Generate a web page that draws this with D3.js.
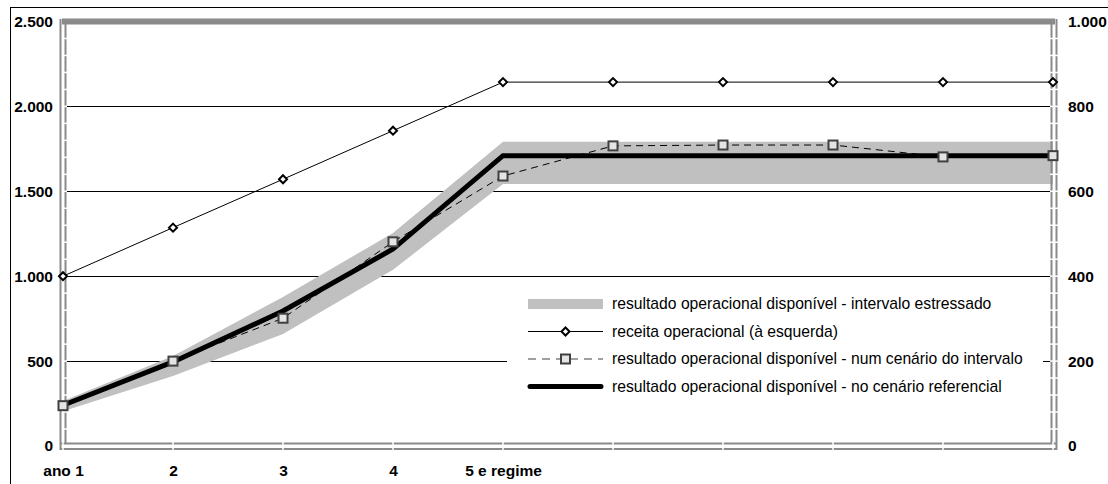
<!DOCTYPE html>
<html>
<head>
<meta charset="utf-8">
<script src="https://cdn.jsdelivr.net/npm/d3@7"></script>
<style>
  html, body { margin: 0; padding: 0; background: #fff; }
  svg { display: block; font-family: "Liberation Sans", Arial, sans-serif; }
</style>
</head>
<body>
<svg id="chart" width="1108" height="484"></svg>
<script>
// Periods along the horizontal axis and their labels
const periods = [1, 2, 3, 4, 5, 6, 7, 8, 9, 10];
const periodLabels = ["ano 1", "2", "3", "4", "5 e regime", "", "", "", "", ""];

// Left axis series
const receita = [1000, 1286, 1571, 1857, 2143, 2143, 2143, 2143, 2143, 2143];

// Right axis series
const resultadoReferencial = [96, 198, 318, 464, 684, 684, 684, 684, 684, 684];
const resultadoCenario = [95, 200, 301, 481, 636, 707, 709, 709, 681, 684];
const intervaloMin = [82, 165, 264, 415, 617, 617, 617, 617, 617, 617];
const intervaloMax = [106, 212, 351, 502, 717, 717, 717, 717, 717, 717];

// Tick values
const leftTicks = [0, 500, 1000, 1500, 2000, 2500];
const rightTicks = [0, 200, 400, 600, 800, 1000];

// Legend entries
const legendLabels = [
  "resultado operacional disponível - intervalo estressado",
  "receita operacional (à esquerda)",
  "resultado operacional disponível - num cenário do intervalo",
  "resultado operacional disponível - no cenário referencial"
];

const svg = d3.select("#chart");
const ptBR = d3.formatLocale({ decimal: ",", thousands: ".", grouping: [3], currency: ["R$", ""] });
const fmt = ptBR.format(",d");

const x = d3.scalePoint().domain(periods).range([63, 1053]);
const yL = d3.scaleLinear().domain([0, 2500]).range([446, 21.5]);
const yR = d3.scaleLinear().domain([0, 1000]).range([446, 21.5]);

const axisGray = "#8a8a8a";

// outer frame
svg.append("rect")
  .attr("x", 10.5).attr("y", 7.5).attr("width", 1200).attr("height", 600)
  .attr("fill", "none").attr("stroke", "#000").attr("stroke-width", 1);

// horizontal gridlines
svg.append("g").selectAll("line")
  .data(leftTicks.filter(v => v > 0 && v < 2500))
  .join("line")
  .attr("x1", 66).attr("x2", 1051)
  .attr("y1", d => Math.round(yL(d)) + 0.5).attr("y2", d => Math.round(yL(d)) + 0.5)
  .attr("stroke", "#000").attr("stroke-width", 1);

// stressed interval band
const band = d3.area()
  .x((d, i) => x(periods[i]))
  .y0(d => yR(d[0]))
  .y1(d => yR(d[1]));
svg.append("path")
  .datum(intervaloMin.map((v, i) => [v, intervaloMax[i]]))
  .attr("d", band)
  .attr("fill", "#c0c0c0");

// legend background
svg.append("rect")
  .attr("x", 507).attr("y", 290).attr("width", 536).attr("height", 110)
  .attr("fill", "#fff");

// axis frame: double gray lines with white tick notches
const frame = svg.append("g");
frame.append("line").attr("x1", 60.5).attr("x2", 60.5).attr("y1", 19).attr("y2", 450).attr("stroke", axisGray).attr("stroke-width", 2);
frame.append("line").attr("x1", 65.5).attr("x2", 65.5).attr("y1", 24).attr("y2", 444).attr("stroke", axisGray).attr("stroke-width", 2);
frame.append("line").attr("x1", 1051.5).attr("x2", 1051.5).attr("y1", 24).attr("y2", 444).attr("stroke", axisGray).attr("stroke-width", 2);
frame.append("line").attr("x1", 1056.5).attr("x2", 1056.5).attr("y1", 19).attr("y2", 450).attr("stroke", axisGray).attr("stroke-width", 2);
frame.append("line").attr("x1", 60).attr("x2", 1057).attr("y1", 443.5).attr("y2", 443.5).attr("stroke", axisGray).attr("stroke-width", 2);
frame.append("line").attr("x1", 60).attr("x2", 1057).attr("y1", 449).attr("y2", 449).attr("stroke", axisGray).attr("stroke-width", 2);
frame.append("line").attr("x1", 62).attr("x2", 1055).attr("y1", 21.5).attr("y2", 21.5).attr("stroke", axisGray).attr("stroke-width", 6);

// minor notches on the vertical axis lines
const minorLeft = d3.range(100, 2500, 100);
frame.append("g").selectAll("line").data(minorLeft).join("line")
  .attr("x1", 64).attr("x2", 67)
  .attr("y1", d => yL(d)).attr("y2", d => yL(d))
  .attr("stroke", "#fff").attr("stroke-width", 1.5);
const minorRight = d3.range(40, 1000, 40);
frame.append("g").selectAll("line").data(minorRight).join("line")
  .attr("x1", 1050).attr("x2", 1058)
  .attr("y1", d => yR(d)).attr("y2", d => yR(d))
  .attr("stroke", "#fff").attr("stroke-width", 1.5);
// notches on the bottom axis at each period
frame.append("g").selectAll("line").data(periods).join("line")
  .attr("x1", d => x(d)).attr("x2", d => x(d))
  .attr("y1", 442).attr("y2", 451)
  .attr("stroke", "#fff").attr("stroke-width", 1.5);

// dashed scenario line
const lineR = d3.line().x((d, i) => x(periods[i])).y(d => yR(d));
const lineL = d3.line().x((d, i) => x(periods[i])).y(d => yL(d));

svg.append("path")
  .datum(resultadoCenario)
  .attr("d", lineR)
  .attr("fill", "none").attr("stroke", "#000").attr("stroke-width", 1)
  .attr("stroke-dasharray", "7,5");

// revenue line (left axis)
svg.append("path")
  .datum(receita)
  .attr("d", lineL)
  .attr("fill", "none").attr("stroke", "#000").attr("stroke-width", 1);

// reference scenario line
svg.append("path")
  .datum(resultadoReferencial)
  .attr("d", lineR)
  .attr("fill", "none").attr("stroke", "#000").attr("stroke-width", 5)
  .attr("stroke-linejoin", "miter");

// markers
const diamond = (cx, cy, r) => `M${cx},${cy - r}L${cx + r},${cy}L${cx},${cy + r}L${cx - r},${cy}Z`;
svg.append("g").selectAll("path").data(receita).join("path")
  .attr("d", (d, i) => diamond(x(periods[i]), yL(d), 4))
  .attr("fill", "#fff").attr("stroke", "#000").attr("stroke-width", 2);

svg.append("g").selectAll("rect").data(resultadoCenario).join("rect")
  .attr("x", (d, i) => x(periods[i]) - 4.5)
  .attr("y", d => yR(d) - 4.5)
  .attr("width", 9).attr("height", 9)
  .attr("fill", "#e4e4e4").attr("stroke", "#404040").attr("stroke-width", 2);

// axes
const gLeft = svg.append("g")
  .attr("transform", "translate(63,0)")
  .call(d3.axisLeft(yL).tickValues(leftTicks).tickFormat(fmt).tickSize(0).tickPadding(10));
const gRight = svg.append("g")
  .attr("transform", "translate(1053,0)")
  .call(d3.axisRight(yR).tickValues(rightTicks).tickFormat(fmt).tickSize(0).tickPadding(15));
const gBottom = svg.append("g")
  .attr("transform", "translate(0,446)")
  .call(d3.axisBottom(x).tickFormat((d, i) => periodLabels[i]).tickSize(0).tickPadding(19));

[gLeft, gRight, gBottom].forEach(g => {
  g.select(".domain").remove();
  g.selectAll("text")
    .attr("fill", "#000")
    .style("font-family", "'Liberation Sans', Arial, sans-serif")
    .style("font-size", "15.5px")
    .style("font-weight", "bold");
});

// legend
const legend = svg.append("g").attr("transform", "translate(528,0)");
const rowY = [304, 331.5, 359, 386.5];
legend.append("rect").attr("x", 0).attr("y", rowY[0] - 5).attr("width", 75).attr("height", 10).attr("fill", "#c0c0c0");
legend.append("line").attr("x1", 0).attr("x2", 75).attr("y1", rowY[1]).attr("y2", rowY[1]).attr("stroke", "#000").attr("stroke-width", 1);
legend.append("path").attr("d", diamond(37.5, rowY[1], 4)).attr("fill", "#fff").attr("stroke", "#000").attr("stroke-width", 2);
legend.append("line").attr("x1", 0).attr("x2", 75).attr("y1", rowY[2]).attr("y2", rowY[2]).attr("stroke", "#808080").attr("stroke-width", 1.5).attr("stroke-dasharray", "8,6");
legend.append("rect").attr("x", 33).attr("y", rowY[2] - 4.5).attr("width", 9).attr("height", 9).attr("fill", "#e4e4e4").attr("stroke", "#404040").attr("stroke-width", 2);
legend.append("line").attr("x1", 2).attr("x2", 73).attr("y1", rowY[3]).attr("y2", rowY[3]).attr("stroke", "#000").attr("stroke-width", 5).attr("stroke-linecap", "round");

legend.selectAll("text").data(legendLabels).join("text")
  .attr("x", 84).attr("y", (d, i) => rowY[i])
  .attr("dy", "0.35em")
  .style("font-size", "15.7px")
  .attr("fill", "#000")
  .text(d => d);
</script>
</body>
</html>
